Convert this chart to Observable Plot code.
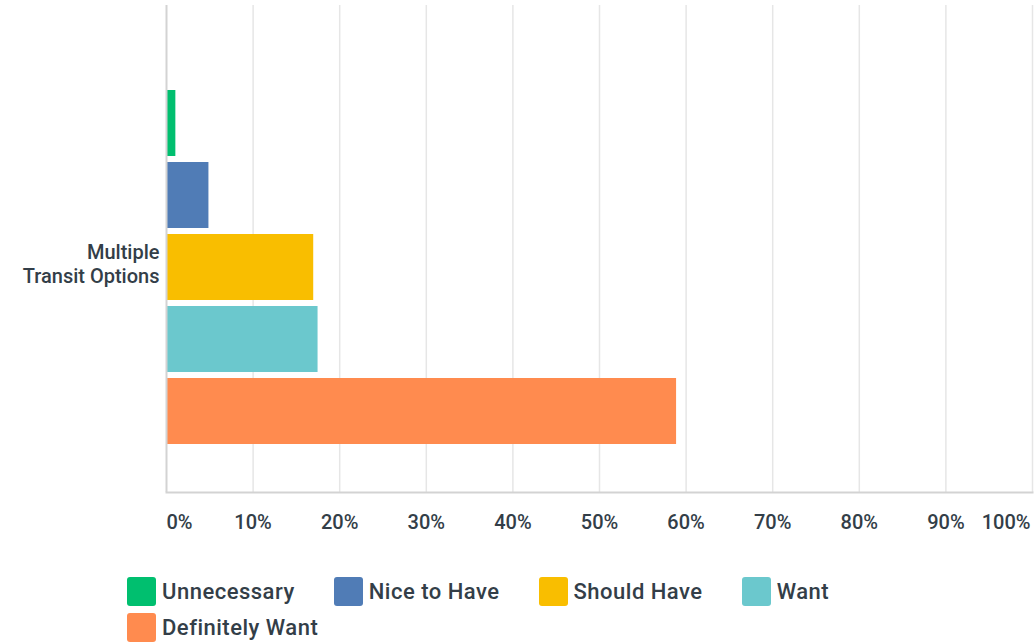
<!DOCTYPE html>
<html>
<head>
<meta charset="utf-8">
<script src="https://cdn.jsdelivr.net/npm/d3@7"></script>
<script src="https://cdn.jsdelivr.net/npm/@observablehq/plot@0.6"></script>
<style>
  html, body { margin: 0; padding: 0; background: #fff; }
  body { width: 1034px; height: 643px; position: relative; overflow: hidden; font-family: Roboto, "Noto Sans", sans-serif; }
  #chart { position: absolute; left: 0; top: 0; }
  #legend { position: absolute; left: 127px; top: 577px; width: 760px; display: flex; flex-wrap: wrap; column-gap: 39px; row-gap: 7px; }
  .item { display: flex; align-items: center; height: 29px; }
  .sw { width: 29px; height: 29px; border-radius: 3px; margin-right: 6px; }
  .lb { font-size: 22px; font-weight: 500; color: #333e48; white-space: nowrap; letter-spacing: 0.5px; }
</style>
</head>
<body>
<div id="chart"></div>
<div id="legend"></div>
<script>
const category = "Multiple Transit Options";
const series = ["Unnecessary", "Nice to Have", "Should Have", "Want", "Definitely Want"];
const values = [0.0108, 0.049, 0.170, 0.175, 0.589];
const colors = ["#00bf6f", "#507cb6", "#f9be00", "#6bc8cd", "#ff8b4f"];
const ticks = [0, 0.1, 0.2, 0.3, 0.4, 0.5, 0.6, 0.7, 0.8, 0.9, 1.0];

const data = series.map((s, i) => ({category, series: s, value: values[i]}));
const fmt = d3.format(".0%");
const textColor = "#333e48";
const axisOpts = {tickSize: 0, tickPadding: 22, tickFormat: fmt, fontSize: 20, fontWeight: 500, fill: textColor, label: null, letterSpacing: 0.3};

const plot = Plot.plot({
  width: 1034,
  height: 560,
  marginLeft: 166,
  marginRight: 2,
  marginTop: 5,
  marginBottom: 68,
  style: {fontFamily: "Roboto, 'Noto Sans', sans-serif", background: "#fff"},
  x: {domain: [0, 1]},
  y: {domain: series, paddingInner: 0.09, paddingOuter: 0.9035, align: 0.634, axis: null},
  color: {domain: series, range: colors},
  marks: [
    Plot.gridX(ticks.slice(1), {stroke: "#e6e6e6", strokeOpacity: 1, strokeWidth: 1.5}),
    Plot.barX(data, {x: "value", y: "series", fill: "series"}),
    Plot.frame({anchor: "bottom", stroke: "#d3d3d3", strokeWidth: 2}),
    Plot.ruleX([0], {stroke: "#d3d3d3", strokeWidth: 2}),
    Plot.axisX(ticks.slice(1, -1), axisOpts),
    Plot.axisX([ticks[0]], {...axisOpts, textAnchor: "start", dx: 0}),
    Plot.axisX([ticks[ticks.length - 1]], {...axisOpts, textAnchor: "end", dx: -2}),
    Plot.text([category], {x: 0, y: () => "Should Have", text: d => d.replace(" ", "\n"), textAnchor: "end", dx: -7, dy: -4, lineHeight: 1.2, fontSize: 20, fontWeight: 500, fill: textColor, letterSpacing: 0.6})
  ]
});
document.getElementById("chart").appendChild(plot);

const legend = document.getElementById("legend");
series.forEach((s, i) => {
  const it = document.createElement("div");
  it.className = "item";
  const sw = document.createElement("div");
  sw.className = "sw";
  sw.style.background = colors[i];
  const lb = document.createElement("span");
  lb.className = "lb";
  lb.textContent = s;
  it.appendChild(sw); it.appendChild(lb);
  legend.appendChild(it);
});
</script>
</body>
</html>
